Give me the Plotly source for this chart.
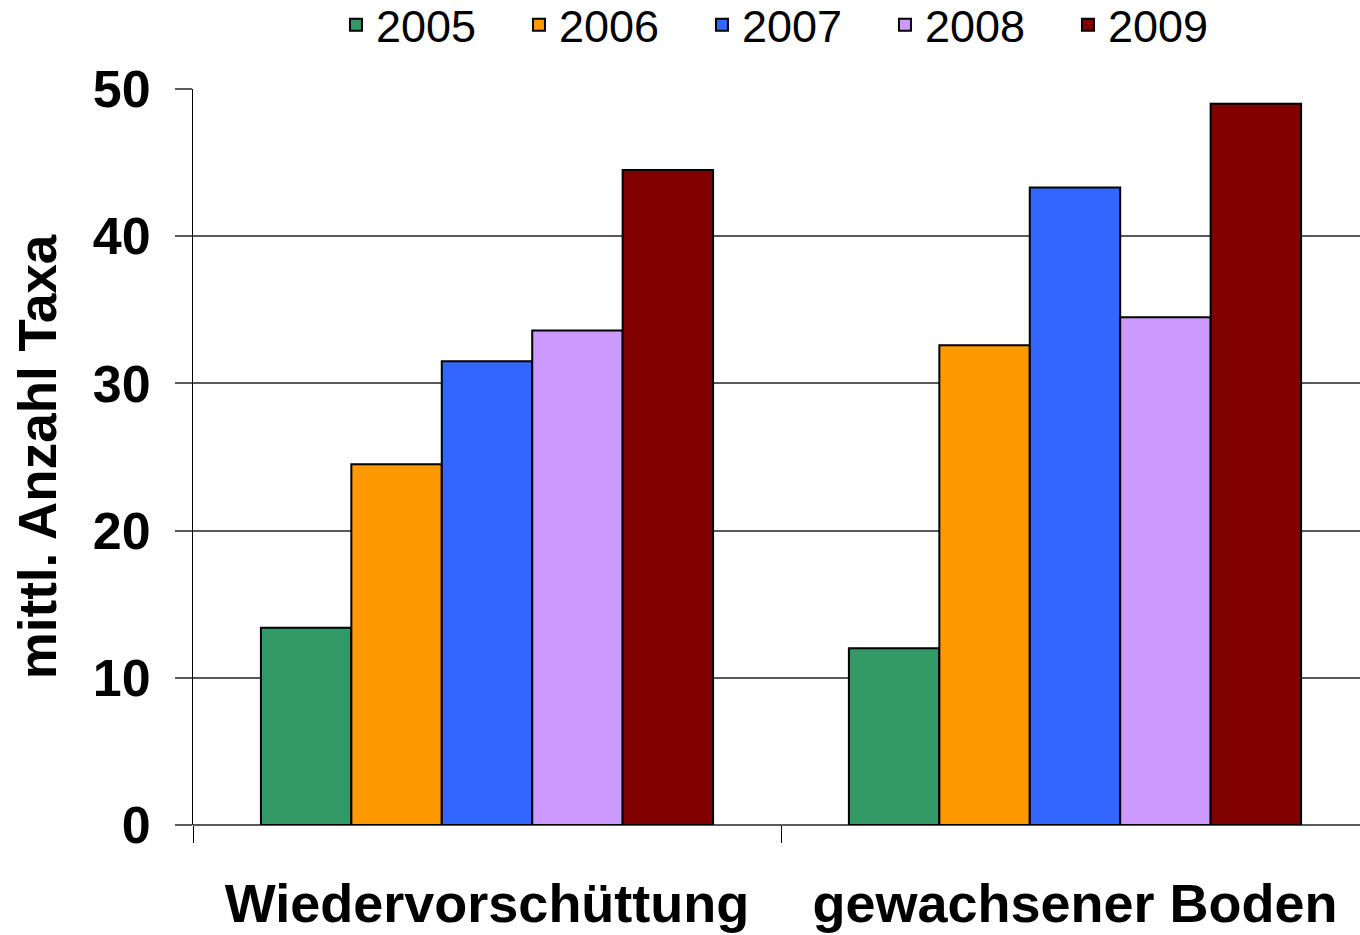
import plotly.graph_objects as go

categories = ["Wiedervorschüttung", "gewachsener Boden"]
years = ["2005", "2006", "2007", "2008", "2009"]
values = {
    "2005": [13.4, 12.0],
    "2006": [24.5, 32.6],
    "2007": [31.5, 43.3],
    "2008": [33.6, 34.5],
    "2009": [44.5, 49.0],
}
colors = {
    "2005": "#339966",
    "2006": "#FF9900",
    "2007": "#3366FF",
    "2008": "#CC99FF",
    "2009": "#800000",
}
y_title = "mittl. Anzahl Taxa"
y_ticks = [0, 10, 20, 30, 40, 50]

fig = go.Figure()
for yr in years:
    fig.add_trace(go.Bar(
        x=categories, y=values[yr], name=yr,
        marker=dict(color=colors[yr], line=dict(color="black", width=2)),
    ))

FONT = "Liberation Sans, Arial, sans-serif"
fig.update_layout(
    width=1360, height=935,
    margin=dict(l=193, r=0, t=89, b=110, autoexpand=False),
    paper_bgcolor="white", plot_bgcolor="white",
    barmode="group", bargap=0.231, bargroupgap=0,
    font=dict(family=FONT, color="black"),
    showlegend=True,
    legend=dict(
        orientation="h", x=0.1225, xanchor="left",
        y=1.087, yanchor="middle",
        font=dict(size=45, family=FONT, color="black"),
        entrywidth=138, entrywidthmode="pixels",
        bgcolor="rgba(0,0,0,0)", borderwidth=0,
    ),
    xaxis=dict(
        range=[-0.5, 1.4847], showgrid=False, showline=False, zeroline=False,
        automargin=False,
        ticks="outside", tickson="boundaries", ticklen=17, tickwidth=1, tickcolor="black",
        tickfont=dict(size=54, family=FONT, weight="bold"),
        ticklabelstandoff=42,
    ),
    yaxis=dict(
        range=[0, 50], tickvals=y_ticks, showgrid=True, gridcolor="#595959", gridwidth=2,
        automargin=False,
        zeroline=True, zerolinecolor="#595959", zerolinewidth=2,
        showline=True, linecolor="black", linewidth=1,
        ticks="outside", ticklen=17, tickwidth=2, tickcolor="#595959",
        tickfont=dict(size=52, family=FONT, weight="bold"),
        ticklabelstandoff=14,
        title=dict(text=y_title, font=dict(size=53, family=FONT, weight="bold"), standoff=19),
    ),
)

fig.write_html(
    "out.html",
    config={"displayModeBar": False},
    post_script="document.body.style.margin='0px';",
)
